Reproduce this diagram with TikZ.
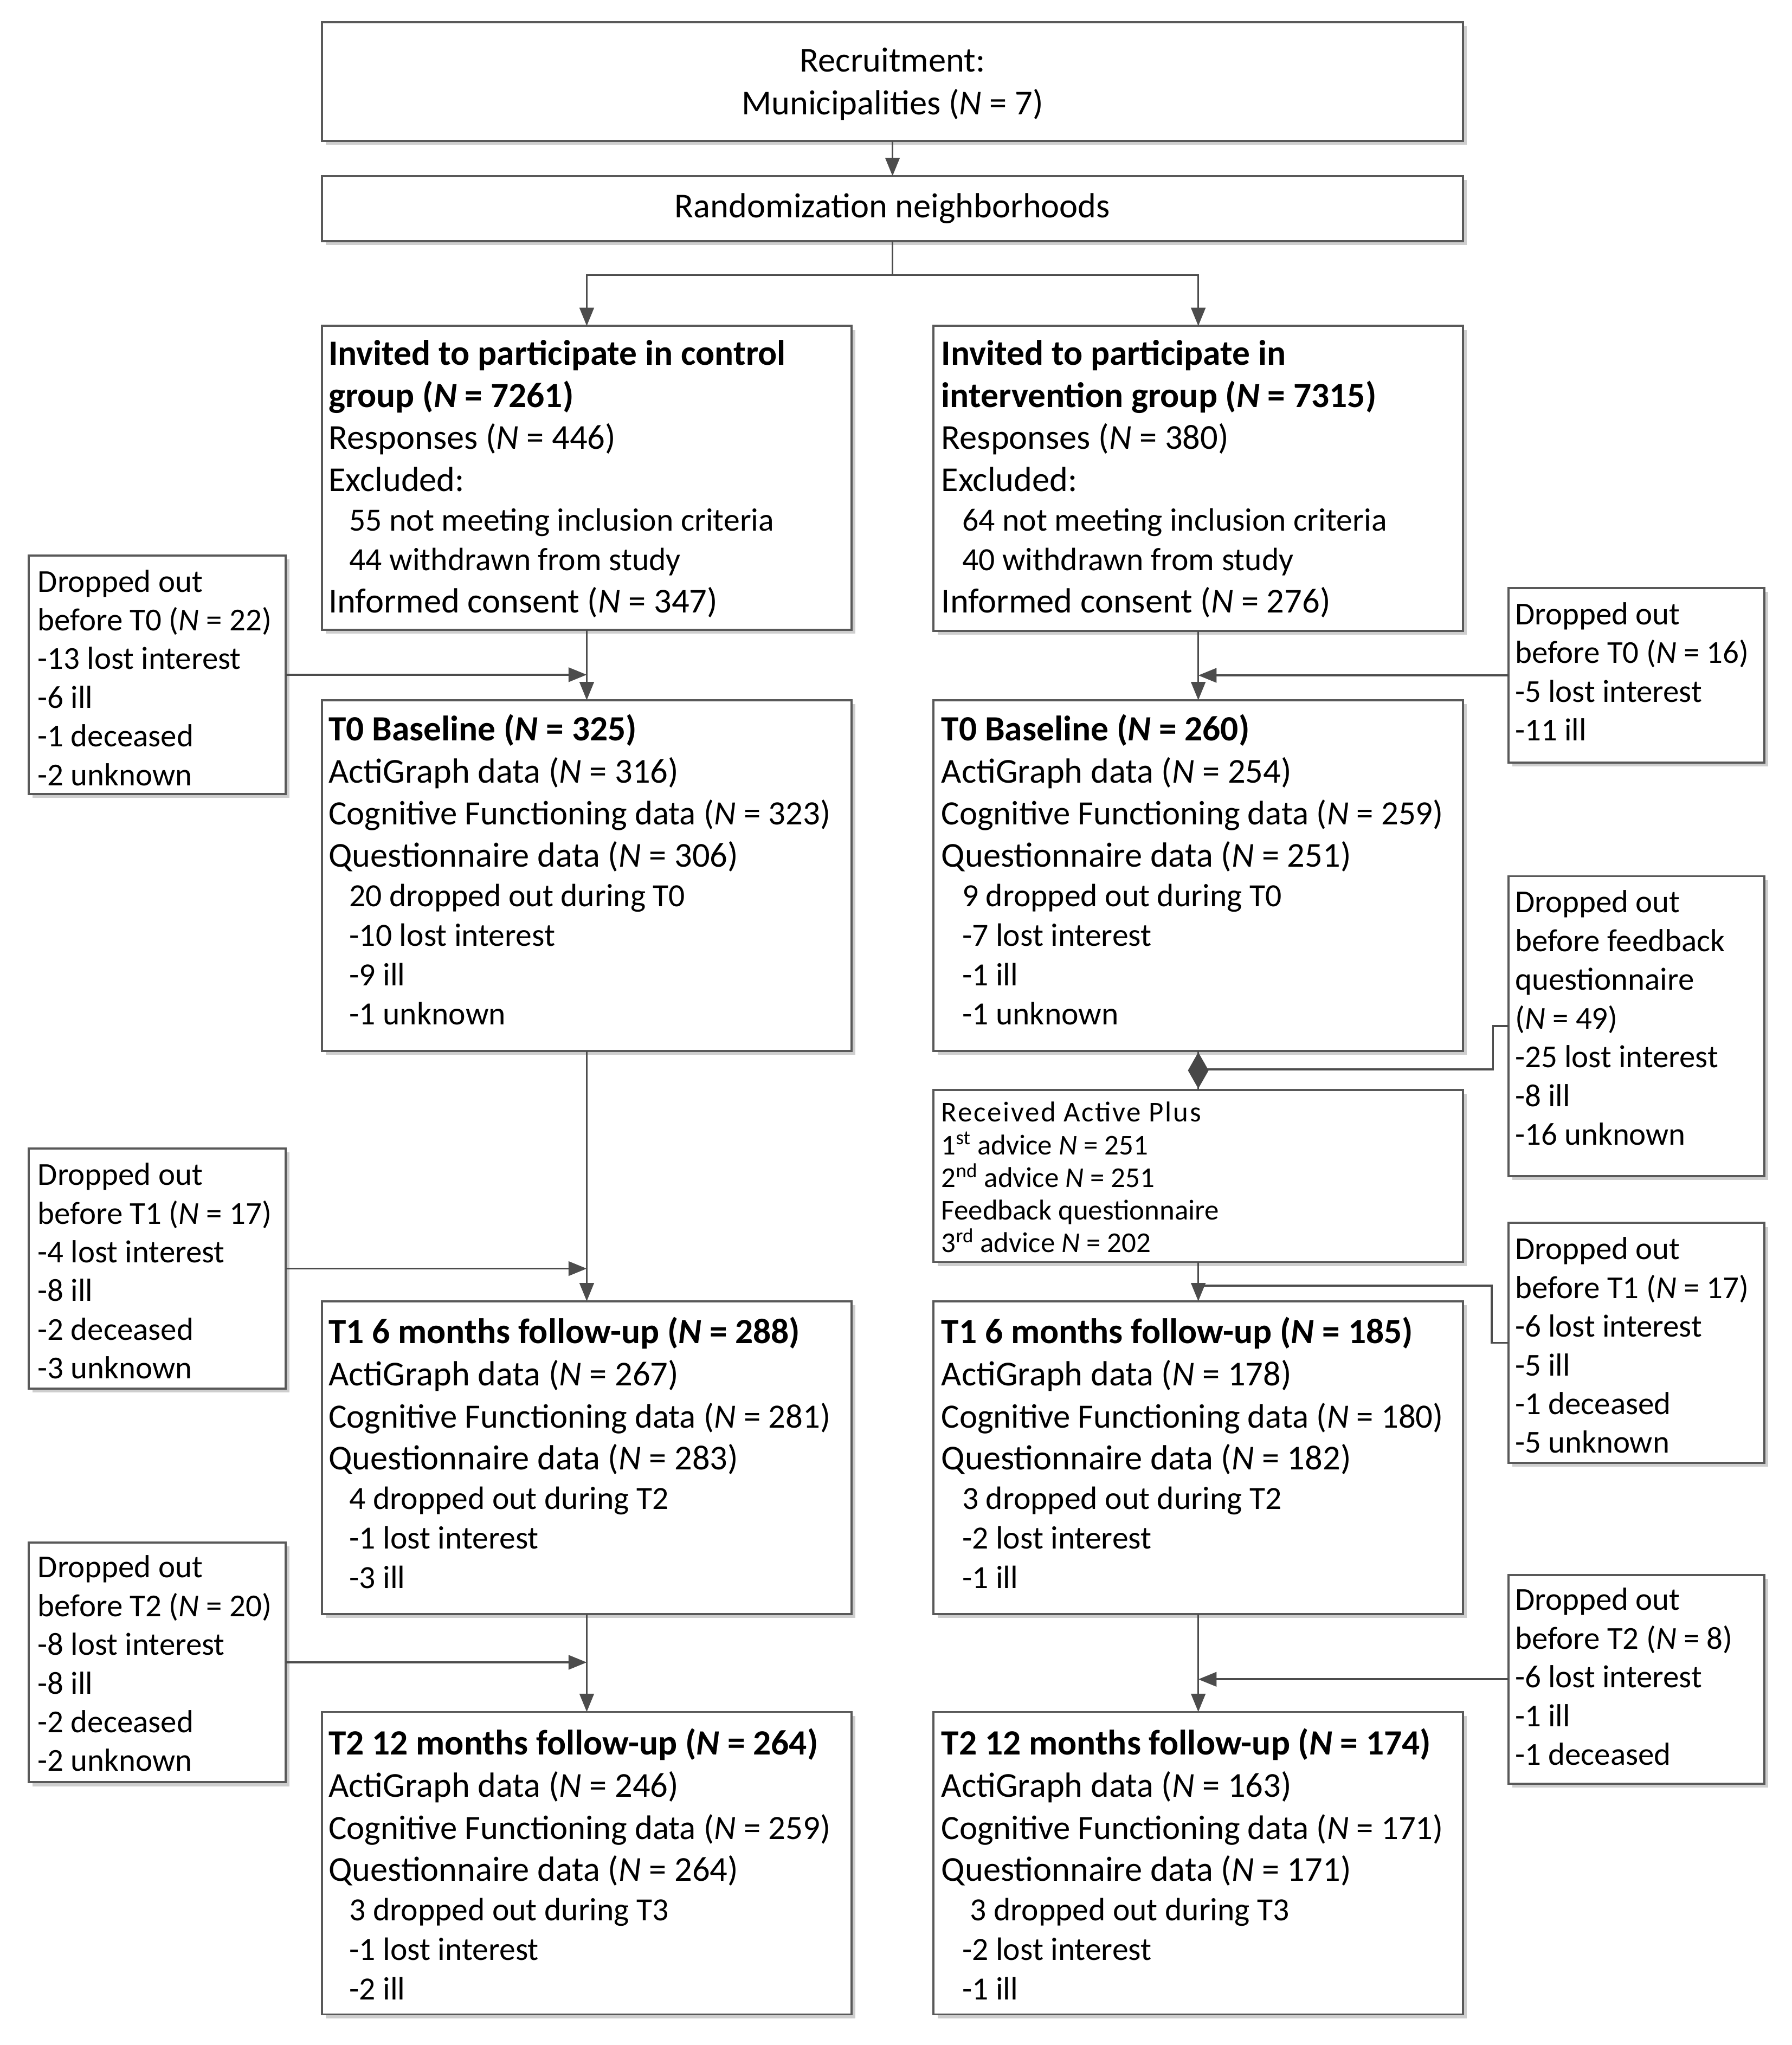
\documentclass[tikz,border=0pt]{standalone}
\usepackage{fontspec}
\setmainfont{Carlito}
\usetikzlibrary{arrows.meta,shadows,shapes.geometric,calc}
\lineskiplimit=-100pt
\newcommand\mainl[1]{{\fontsize{26.8}{32.3}\selectfont\lineskiplimit=-100pt #1\par}}
\newcommand\cogl[1]{{\fontsize{26.1}{32.3}\selectfont\lineskiplimit=-100pt #1\par}}
\newcommand\titl[1]{{\fontsize{27.2}{32.3}\selectfont\lineskiplimit=-100pt\bfseries #1\par}}
\newcommand\subl[1]{{\fontsize{24.8}{30.3}\selectfont\lineskiplimit=-100pt\hspace*{16pt}#1\par}}
\newcommand\dropl[1]{{\fontsize{24.5}{29.7}\selectfont\lineskiplimit=-100pt #1\par}}
\newcommand\recl[1]{{\fontsize{22}{25}\selectfont\lineskiplimit=-100pt #1\par}}
\newcommand\NN{\textit{N}}
\tikzset{
  box/.style={draw=black!65, line width=1.6pt, fill=white, rectangle, inner sep=0pt, outer sep=0pt, anchor=north west,
    drop shadow={shadow xshift=3pt, shadow yshift=-3pt, opacity=0.35, fill=black!55}},
  txt/.style={inner sep=0pt, outer sep=0pt, anchor=base west},
  conn/.style={draw=black!70, line width=1.5pt},
  arr/.style={conn, -{Triangle[length=14pt,width=11pt]}},
}
\begin{document}
\begin{tikzpicture}[x=1pt,y=-1pt]
\fill[white] (0,0) rectangle (1374.3,1568.5);
\useasboundingbox (0,0) rectangle (1374.3,1568.5);

% ---------- top ----------
\node[box, minimum width=875pt, minimum height=91pt] (recr) at (247,17) {};
\node[inner sep=0pt, anchor=base] (recrT) at (684.5,55) {\begin{minipage}[t]{800pt}\centering
  \mainl{Recruitment:}
  {\fontsize{26.8}{33}\selectfont\lineskiplimit=-100pt Municipalities (\NN{} = 7)\par}
\end{minipage}};
\node[box, minimum width=875pt, minimum height=50pt] (rand) at (247,135) {};
\node[inner sep=0pt, anchor=base] (randT) at (684.5,167) {\fontsize{26.8}{32}\selectfont Randomization neighborhoods};

% ---------- control column ----------
\node[box, minimum width=406pt, minimum height=233pt] (ctrl) at (247,250) {};
\node[txt] (ctrlT) at (252,280) {\begin{minipage}[t]{398pt}
  \titl{Invited to participate in control}
  \titl{group (\NN{} = 7261)}
  \mainl{Responses (\NN{} = 446)}
  \mainl{Excluded:}
  \subl{55 not meeting inclusion criteria}
  \subl{44 withdrawn from study}
  \mainl{Informed consent (\NN{} = 347)}
\end{minipage}};

\node[box, minimum width=406pt, minimum height=269pt] (ct0) at (247,537) {};
\node[txt] (ct0T) at (252,568) {\begin{minipage}[t]{398pt}
  \titl{T0 Baseline (\NN{} = 325)}
  \mainl{ActiGraph data (\NN{} = 316)}
  \cogl{Cognitive Functioning data (\NN{} = 323)}
  \mainl{Questionnaire data (\NN{} = 306)}
  \subl{20 dropped out during T0}
  \subl{-10 lost interest}
  \subl{-9 ill}
  \subl{-1 unknown}
\end{minipage}};

\node[box, minimum width=406pt, minimum height=240pt] (ct1) at (247,998) {};
\node[txt] (ct1T) at (252,1030.5) {\begin{minipage}[t]{398pt}
  \titl{T1 6 months follow-up (\NN{} = 288)}
  \mainl{ActiGraph data (\NN{} = 267)}
  \cogl{Cognitive Functioning data (\NN{} = 281)}
  \mainl{Questionnaire data (\NN{} = 283)}
  \subl{4 dropped out during T2}
  \subl{-1 lost interest}
  \subl{-3 ill}
\end{minipage}};

\node[box, minimum width=406pt, minimum height=232pt] (ct2) at (247,1313) {};
\node[txt] (ct2T) at (252,1346) {\begin{minipage}[t]{398pt}
  \titl{T2 12 months follow-up (\NN{} = 264)}
  \mainl{ActiGraph data (\NN{} = 246)}
  \cogl{Cognitive Functioning data (\NN{} = 259)}
  \mainl{Questionnaire data (\NN{} = 264)}
  \subl{3 dropped out during T3}
  \subl{-1 lost interest}
  \subl{-2 ill}
\end{minipage}};

% ---------- intervention column ----------
\node[box, minimum width=406pt, minimum height=234pt] (intv) at (716,250) {};
\node[txt] (intvT) at (722,280) {\begin{minipage}[t]{398pt}
  \titl{Invited to participate in}
  \titl{intervention group (\NN{} = 7315)}
  \mainl{Responses (\NN{} = 380)}
  \mainl{Excluded:}
  \subl{64 not meeting inclusion criteria}
  \subl{40 withdrawn from study}
  \mainl{Informed consent (\NN{} = 276)}
\end{minipage}};

\node[box, minimum width=406pt, minimum height=269pt] (it0) at (716,537) {};
\node[txt] (it0T) at (722,568) {\begin{minipage}[t]{398pt}
  \titl{T0 Baseline (\NN{} = 260)}
  \mainl{ActiGraph data (\NN{} = 254)}
  \cogl{Cognitive Functioning data (\NN{} = 259)}
  \mainl{Questionnaire data (\NN{} = 251)}
  \subl{9 dropped out during T0}
  \subl{-7 lost interest}
  \subl{-1 ill}
  \subl{-1 unknown}
\end{minipage}};

\node[box, minimum width=406pt, minimum height=132pt] (recv) at (716,836) {};
\node[txt] (recvT) at (722,860.5) {\begin{minipage}[t]{398pt}
  \recl{\addfontfeature{LetterSpace=5}Received Active Plus}
  \recl{1\textsuperscript{st} advice \NN{} = 251}
  \recl{2\textsuperscript{nd} advice \NN{} = 251}
  \recl{Feedback questionnaire}
  \recl{3\textsuperscript{rd} advice \NN{} = 202}
\end{minipage}};

\node[box, minimum width=406pt, minimum height=240pt] (it1) at (716,998) {};
\node[txt] (it1T) at (722,1030.5) {\begin{minipage}[t]{398pt}
  \titl{T1 6 months follow-up (\NN{} = 185)}
  \mainl{ActiGraph data (\NN{} = 178)}
  \cogl{Cognitive Functioning data (\NN{} = 180)}
  \mainl{Questionnaire data (\NN{} = 182)}
  \subl{3 dropped out during T2}
  \subl{-2 lost interest}
  \subl{-1 ill}
\end{minipage}};

\node[box, minimum width=406pt, minimum height=232pt] (it2) at (716,1313) {};
\node[txt] (it2T) at (722,1346) {\begin{minipage}[t]{398pt}
  \titl{T2 12 months follow-up (\NN{} = 174)}
  \mainl{ActiGraph data (\NN{} = 163)}
  \cogl{Cognitive Functioning data (\NN{} = 171)}
  \mainl{Questionnaire data (\NN{} = 171)}
  \subl{\hspace*{6pt}3 dropped out during T3}
  \subl{-2 lost interest}
  \subl{-1 ill}
\end{minipage}};

% ---------- dropped-out boxes, left ----------
\node[box, minimum width=197pt, minimum height=183pt] (dl0) at (22,426) {};
\node[txt] (dl0T) at (29,454) {\begin{minipage}[t]{188pt}
  \dropl{Dropped out}
  \dropl{before T0 (\NN{} = 22)}
  \dropl{-13 lost interest}
  \dropl{-6 ill}
  \dropl{-1 deceased}
  \dropl{-2 unknown}
\end{minipage}};

\node[box, minimum width=197pt, minimum height=184pt] (dl1) at (22,881) {};
\node[txt] (dl1T) at (29,909) {\begin{minipage}[t]{188pt}
  \dropl{Dropped out}
  \dropl{before T1 (\NN{} = 17)}
  \dropl{-4 lost interest}
  \dropl{-8 ill}
  \dropl{-2 deceased}
  \dropl{-3 unknown}
\end{minipage}};

\node[box, minimum width=197pt, minimum height=184pt] (dl2) at (22,1183) {};
\node[txt] (dl2T) at (29,1210) {\begin{minipage}[t]{188pt}
  \dropl{Dropped out}
  \dropl{before T2 (\NN{} = 20)}
  \dropl{-8 lost interest}
  \dropl{-8 ill}
  \dropl{-2 deceased}
  \dropl{-2 unknown}
\end{minipage}};

% ---------- dropped-out boxes, right ----------
\node[box, minimum width=196pt, minimum height=134pt] (dr0) at (1157,451) {};
\node[txt] (dr0T) at (1162,479) {\begin{minipage}[t]{188pt}
  \dropl{Dropped out}
  \dropl{before T0 (\NN{} = 16)}
  \dropl{-5 lost interest}
  \dropl{-11 ill}
\end{minipage}};

\node[box, minimum width=196pt, minimum height=230pt] (drf) at (1157,672) {};
\node[txt] (drfT) at (1162,700) {\begin{minipage}[t]{188pt}
  \dropl{Dropped out}
  \dropl{before feedback}
  \dropl{questionnaire}
  \dropl{(\NN{} = 49)}
  \dropl{-25 lost interest}
  \dropl{-8 ill}
  \dropl{-16 unknown}
\end{minipage}};

\node[box, minimum width=196pt, minimum height=184pt] (dr1) at (1157,938) {};
\node[txt] (dr1T) at (1162,966) {\begin{minipage}[t]{188pt}
  \dropl{Dropped out}
  \dropl{before T1 (\NN{} = 17)}
  \dropl{-6 lost interest}
  \dropl{-5 ill}
  \dropl{-1 deceased}
  \dropl{-5 unknown}
\end{minipage}};

\node[box, minimum width=196pt, minimum height=160pt] (dr2) at (1157,1208) {};
\node[txt] (dr2T) at (1162,1235) {\begin{minipage}[t]{188pt}
  \dropl{Dropped out}
  \dropl{before T2 (\NN{} = 8)}
  \dropl{-6 lost interest}
  \dropl{-1 ill}
  \dropl{-1 deceased}
\end{minipage}};

% ---------- connectors ----------
\draw[arr] (recr.south) -- (rand.north);
\draw[arr] (rand.south) -- ++(0,26) -| (ctrl.north);
\draw[arr] (rand.south) -- ++(0,26) -| (intv.north);

\draw[arr] (ctrl.south) -- (ct0.north);
\draw[arr] (dl0.east) -- (dl0.east -| ct0.north);
\draw[arr] (ct0.south) -- (ct1.north);
\draw[arr] (dl1.east) -- (dl1.east -| ct1.north);
\draw[arr] (ct1.south) -- (ct2.north);
\draw[arr] (dl2.east) -- (dl2.east -| ct2.north);

\draw[arr] (intv.south) -- (it0.north);
\draw[arr] (dr0.west) -- (dr0.west -| it0.north);
\coordinate (fbj) at ($(it0.south)!0.47!(recv.north)$);
\draw[conn] (it0.south) -- (recv.north);
\draw[conn] (drf.west) -- ++(-12,0) |- (fbj);
\node[diamond, fill=black!72, inner sep=0pt, minimum width=16pt, minimum height=28pt] (dia) at ($(it0.south)!0.5!(recv.north)$) {};
\coordinate (t1j) at ($(recv.south)!0.6!(it1.north)$);
\draw[arr] (recv.south) -- (it1.north);
\draw[conn] (dr1.west) -- ++(-13,0) |- (t1j);
\draw[arr] (it1.south) -- (it2.north);
\draw[arr] (dr2.west) -- (dr2.west -| it2.north);
\end{tikzpicture}
\end{document}
